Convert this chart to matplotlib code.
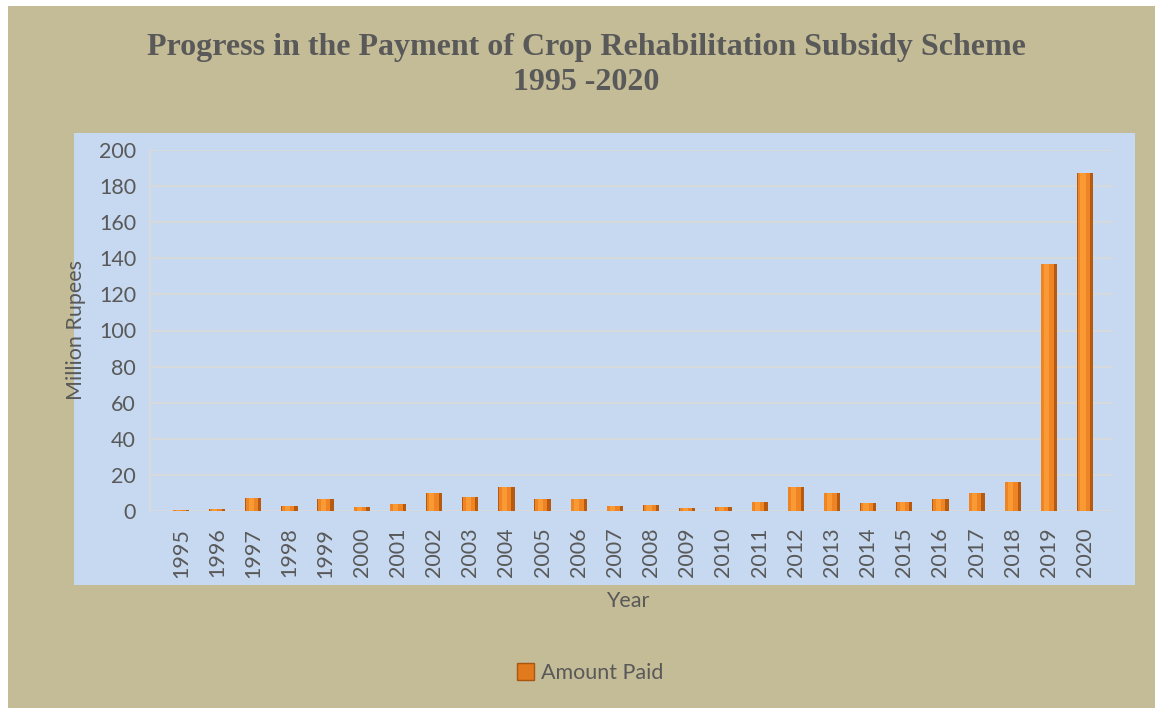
import matplotlib
matplotlib.use("Agg")
import matplotlib.pyplot as plt
from matplotlib.patches import Rectangle, Patch

years = [str(y) for y in range(1995, 2021)]
amount_paid = [0.5, 1, 7.4, 2.8, 6.8, 2.2, 3.7, 9.8, 8, 13.2, 6.8, 6.5, 2.8,
               3.2, 1.8, 2.2, 5, 13.2, 9.8, 4.3, 5, 6.5, 10.2, 16.1, 137, 187]
y_ticks = list(range(0, 201, 20))

TXT = "#595959"
KHAKI = "#C4BC97"
BLUE = "#C6D9F0"

plt.rcParams['font.family'] = ['Lato', 'DejaVu Sans']

fig = plt.figure(figsize=(11.55, 7.08), dpi=100)
fig.patch.set_facecolor("white")
fig.patches.append(Rectangle((8/1155, 0), 1 - 8/1155, 1 - 6/708, transform=fig.transFigure,
                             facecolor=KHAKI, edgecolor="none", zorder=-10))
fig.patches.append(Rectangle((74/1155, 1 - 585/708), 1061/1155, 452/708, transform=fig.transFigure,
                             facecolor=BLUE, edgecolor="none", zorder=-9))

ax = fig.add_axes([150/1155, 1 - 511/708, 963/1155, 361/708])
ax.set_facecolor(BLUE)
ax.patch.set_alpha(0)

x = list(range(len(years)))
ax.bar(x, amount_paid, width=0.45, color="#B65A12", zorder=3)
ax.bar([xi - 0.04 for xi in x], amount_paid, width=0.34, color="#EE8424", zorder=4)
ax.bar([xi - 0.06 for xi in x], amount_paid, width=0.14, color="#FA9A35", zorder=5)

ax.set_xlim(-0.856, 25.77)
ax.set_ylim(0, 200)
ax.set_yticks(y_ticks)
ax.set_xticks(x)
ax.set_xticklabels(years, rotation=90)
ax.tick_params(axis='both', length=0, labelcolor=TXT, labelsize=15.5)
ax.tick_params(axis='y', pad=10)
ax.tick_params(axis='x', pad=12)
ax.grid(axis='y', color="#D9D9D9", linewidth=1.3, zorder=0)
ax.set_axisbelow(True)
for s in ["top", "right", "bottom"]:
    ax.spines[s].set_visible(False)
ax.spines["left"].set_color("#D9D9D9")
ax.spines["left"].set_linewidth(1.3)

ax.set_ylabel("Million Rupees", color=TXT, fontsize=15.5)
ax.yaxis.set_label_coords(-0.0665, 0.501)
ax.set_xlabel("Year", color=TXT, fontsize=15.5)
ax.xaxis.set_label_coords(0.4964, -0.2216)

fig.text(586/1155, 1 - 48/708, "Progress in the Payment of Crop Rehabilitation Subsidy Scheme",
         ha="center", va="center", family="Liberation Serif", weight="bold", fontsize=23, color=TXT)
fig.text(586/1155, 1 - 82/708, "1995 -2020",
         ha="center", va="center", family="Liberation Serif", weight="bold", fontsize=23, color=TXT)

handle = Patch(facecolor="#E07A1C", edgecolor="#A8550F")
fig.legend([handle], ["Amount Paid"], loc="center", bbox_to_anchor=(590/1155, 1 - 673/708),
           frameon=False, fontsize=15.5, labelcolor=TXT, handlelength=0.8, handleheight=0.8,
           handletextpad=0.3)

fig.savefig("out.png", dpi=100, facecolor=fig.get_facecolor())
